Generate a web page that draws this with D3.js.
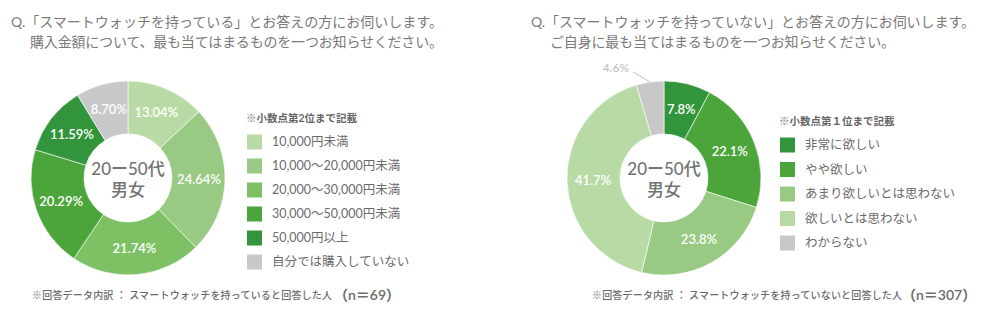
<!DOCTYPE html>
<html>
<head>
<meta charset="utf-8">
<script src="https://cdn.jsdelivr.net/npm/d3@7"></script>
<style>
  body { margin: 0; background: #fff; }
  svg { font-family: "Lato", "Noto Sans CJK JP", sans-serif; }
</style>
</head>
<body>
<div id="chart"></div>
<script>
// left chart data (purchase price)
var leftCategories = [
  "10,000円未満",
  "10,000〜20,000円未満",
  "20,000〜30,000円未満",
  "30,000〜50,000円未満",
  "50,000円以上",
  "自分では購入していない",
];
var leftValues = [13.04, 24.64, 21.74, 20.29, 11.59, 8.7];
var leftLabels = ["13.04%", "24.64%", "21.74%", "20.29%", "11.59%", "8.70%"];
var leftColors = ["#b8dba5", "#98ca83", "#7dc164", "#4ca53a", "#33953b", "#c8c8c8"];

// right chart data (desire to own)
var rightCategories = [
  "非常に欲しい",
  "やや欲しい",
  "あまり欲しいとは思わない",
  "欲しいとは思わない",
  "わからない",
];
var rightValues = [7.8, 22.1, 23.8, 41.7, 4.6];
var rightLabels = ["7.8%", "22.1%", "23.8%", "41.7%", "4.6%"];
var rightColors = ["#33953b", "#4ca53a", "#98ca83", "#b8dba5", "#c8c8c8"];

var w = 984;
var h = 310;

const svg = d3
  .select("#chart")
  .append("svg")
  .attr("width", w)
  .attr("height", h);

function drawPanel(opt) {
  var g = svg.append("g");

  // question title (two lines)
  g.append("text")
    .attr("x", opt.titleX)
    .attr("y", 27)
    .attr("fill", "#7a7a7a")
    .attr("textLength", opt.title1Len)
    .attr("lengthAdjust", "spacing")
    .style("font-size", "14px")
    .text(opt.title1);
  g.append("text")
    .attr("x", opt.titleX + 19)
    .attr("y", 47)
    .attr("fill", "#7a7a7a")
    .attr("textLength", opt.title2Len)
    .attr("lengthAdjust", "spacing")
    .style("font-size", "14px")
    .text(opt.title2);

  // donut
  var rOuter = 97;
  var rInner = 44;
  var pie = d3.pie().sort(null).value(function (d) {
    return d;
  });
  var arc = d3.arc().innerRadius(rInner).outerRadius(rOuter);
  var labelArc = d3.arc().innerRadius(71).outerRadius(71);

  var donut = g
    .append("g")
    .attr("transform", "translate(" + opt.cx + "," + opt.cy + ")");

  var arcs = pie(opt.values);

  donut
    .selectAll("path")
    .data(arcs)
    .enter()
    .append("path")
    .attr("d", arc)
    .attr("fill", function (d, i) {
      return opt.colors[i];
    })
    .attr("stroke", "#fff")
    .attr("stroke-width", 0.6);

  // slice labels
  donut
    .selectAll(".pct")
    .data(arcs)
    .enter()
    .filter(function (d, i) {
      return i !== opt.outsideIndex;
    })
    .append("text")
    .attr("class", "pct")
    .attr("transform", function (d) {
      return "translate(" + labelArc.centroid(d) + ")";
    })
    .attr("text-anchor", "middle")
    .attr("dy", "0.35em")
    .attr("fill", "#fff")
    .style("font-size", "13px")
    .style("font-weight", 600)
    .text(function (d) {
      return opt.labels[d.index];
    });

  // outside label with leader line
  if (opt.outsideIndex != null) {
    var d = arcs[opt.outsideIndex];
    var a = (d.startAngle + d.endAngle) / 2;
    var p0 = [Math.sin(a) * rOuter, -Math.cos(a) * rOuter];
    var p1 = [p0[0] - 17, p0[1] - 10];
    donut
      .append("line")
      .attr("x1", p0[0])
      .attr("y1", p0[1])
      .attr("x2", p1[0])
      .attr("y2", p1[1])
      .attr("stroke", "#c0c0c0")
      .attr("stroke-width", 1);
    donut
      .append("text")
      .attr("x", p1[0] - 4)
      .attr("y", p1[1] - 4)
      .attr("text-anchor", "end")
      .attr("dy", "0.35em")
      .attr("fill", "#bdbdbd")
      .style("font-size", "12px")
      .text(opt.labels[opt.outsideIndex]);
  }

  // center text
  var center = donut
    .append("text")
    .attr("text-anchor", "middle")
    .attr("fill", "#737373")
    .style("font-size", "17px")
    .style("font-weight", 500);
  center.append("tspan").attr("x", 0).attr("y", -3).text("20ー50代");
  center.append("tspan").attr("x", 0).attr("y", 18).text("男女");

  // legend
  var legend = g
    .append("g")
    .attr("transform", "translate(" + opt.legendX + "," + opt.legendY + ")");

  legend
    .append("text")
    .attr("x", -1)
    .attr("y", -20)
    .attr("fill", "#666")
    .style("font-size", "10.5px")
    .style("font-weight", 700)
    .text(opt.note);

  var row = legend
    .selectAll(".row")
    .data(opt.categories)
    .enter()
    .append("g")
    .attr("class", "row")
    .attr("transform", function (d, i) {
      return "translate(0," + i * opt.legendStep + ")";
    });

  row
    .append("rect")
    .attr("x", 0)
    .attr("y", -7.5)
    .attr("width", 15)
    .attr("height", 15)
    .attr("fill", function (d, i) {
      return opt.colors[i];
    });

  row
    .append("text")
    .attr("x", opt.legendTextX)
    .attr("dy", "0.35em")
    .attr("fill", "#6b6b6b")
    .style("font-size", "12.5px")
    .text(function (d) {
      return d;
    });

  // footer note
  g.append("text")
    .attr("x", opt.footX)
    .attr("y", 299)
    .attr("fill", "#6b6b6b")
    .attr("textLength", opt.footLen)
    .attr("lengthAdjust", "spacing")
    .style("font-size", "10px")
    .style("font-weight", 500)
    .text(opt.foot);
  g.append("text")
    .attr("x", opt.footNX)
    .attr("y", 300)
    .attr("fill", "#6b6b6b")
    .style("font-size", "14px")
    .style("font-weight", 600)
    .text(opt.footN);
}

drawPanel({
  titleX: 11,
  title1: "Q.「スマートウォッチを持っている」とお答えの方にお伺いします。",
  title1Len: 432,
  title2: "購入金額について、最も当てはまるものを一つお知らせください。",
  title2Len: 413,
  cx: 128,
  cy: 178,
  values: leftValues,
  labels: leftLabels,
  colors: leftColors,
  categories: leftCategories,
  outsideIndex: null,
  note: "※小数点第2位まで記載",
  legendX: 247,
  legendY: 142,
  legendStep: 24,
  legendTextX: 25,
  footX: 32,
  footLen: 300,
  foot: "※回答データ内訳 ： スマートウォッチを持っていると回答した人",
  footNX: 334,
  footN: "（n＝69）",
});

drawPanel({
  titleX: 531,
  title1: "Q.「スマートウォッチを持っていない」とお答えの方にお伺いします。",
  title1Len: 444,
  title2: "ご自身に最も当てはまるものを一つお知らせください。",
  title2Len: 345,
  cx: 664,
  cy: 178,
  values: rightValues,
  labels: rightLabels,
  colors: rightColors,
  categories: rightCategories,
  outsideIndex: 4,
  note: "※小数点第１位まで記載",
  legendX: 780,
  legendY: 145,
  legendStep: 24.5,
  legendTextX: 25,
  footX: 592,
  footLen: 310,
  foot: "※回答データ内訳 ： スマートウォッチを持っていないと回答した人",
  footNX: 902,
  footN: "（n＝307）",
});
</script>
</body>
</html>
